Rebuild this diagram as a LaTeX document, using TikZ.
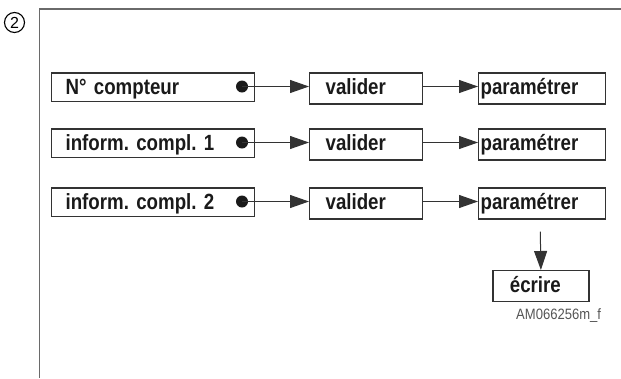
\documentclass[tikz,border=0pt]{standalone}
\usepackage{fontspec}
\setmainfont{Liberation Sans}
\newfontfamily\boxfont{Liberation Sans Bold}[FakeStretch=0.85]
\newfontfamily\codefont{Liberation Sans}[FakeStretch=0.87]
\usetikzlibrary{arrows.meta}
\definecolor{boxline}{HTML}{333333}
\definecolor{frameline}{HTML}{6A6A6A}
\definecolor{txt}{HTML}{1A1A1A}
\definecolor{codegray}{HTML}{555555}
\frenchspacing
\begin{document}
\begin{tikzpicture}[x=1pt,y=-1pt,
  box/.style={draw=boxline, line width=1.2pt, anchor=north west, inner ysep=0pt,
    text=txt, font=\boxfont\fontsize{22}{24}\selectfont, align=left, text height=15.6pt},
  lowbox/.style={box, minimum height=28.4pt, text depth=0pt},
  tallbox/.style={box, minimum height=31pt, text depth=2.6pt},
  firstbox/.style={lowbox, inner xsep=14pt, text width=174.5pt},
  validbox/.style={tallbox, inner xsep=16pt, text width=81pt},
  parambox/.style={tallbox, inner xsep=2pt, text width=123pt},
  writebox/.style={tallbox, inner xsep=17pt, text width=62pt},
  dotmark/.style={circle, fill=txt, inner sep=0pt, minimum size=12pt},
  flow/.style={draw=boxline, line width=1pt, -{Triangle[length=19pt,width=13pt]}}
]
\useasboundingbox (0,0) rectangle (621,378);
\draw[frameline, line width=1.5pt] (621,9) -- (39.5,9) -- (39.5,378);
\node[circle, draw=black, line width=1.1pt, minimum size=20pt, inner sep=0pt,
  font=\fontsize{16}{16}\selectfont] (num) at (14.5,22.5) {2};

% row 1
\node[firstbox] (a1) at (51,72.3) {N° compteur};
\node[dotmark] (d1) at (242,86.5) {};
\node[validbox] (v1) at (309,72.3) {valider};
\node[parambox] (p1) at (478,72.3) {paramétrer};
% row 2
\node[firstbox] (a2) at (51,128.3) {inform. compl. 1};
\node[dotmark] (d2) at (242,142.5) {};
\node[validbox] (v2) at (309,128.3) {valider};
\node[parambox] (p2) at (478,128.3) {paramétrer};
% row 3
\node[firstbox] (a3) at (51,187.3) {inform. compl. 2};
\node[dotmark] (d3) at (242,201.5) {};
\node[validbox] (v3) at (309,187.3) {valider};
\node[parambox] (p3) at (478,187.3) {paramétrer};

\node[writebox] (w) at (492.3,270) {écrire};
\node[anchor=base west, text=codegray, inner sep=0pt,
  font=\codefont\fontsize{15}{15}\selectfont] (code) at (516,319) {AM066256m\_f};

\coordinate (s) at (540.3,231.7);

\draw[flow] (d1.center) -- (v1.west |- d1.center);
\draw[flow] (d2.center) -- (v2.west |- d2.center);
\draw[flow] (d3.center) -- (v3.west |- d3.center);
\draw[flow] (v1.east |- d1.center) -- (p1.west |- d1.center);
\draw[flow] (v2.east |- d2.center) -- (p2.west |- d2.center);
\draw[flow] (v3.east |- d3.center) -- (p3.west |- d3.center);
\draw[flow] (s) -- (w.north);
\end{tikzpicture}
\end{document}
